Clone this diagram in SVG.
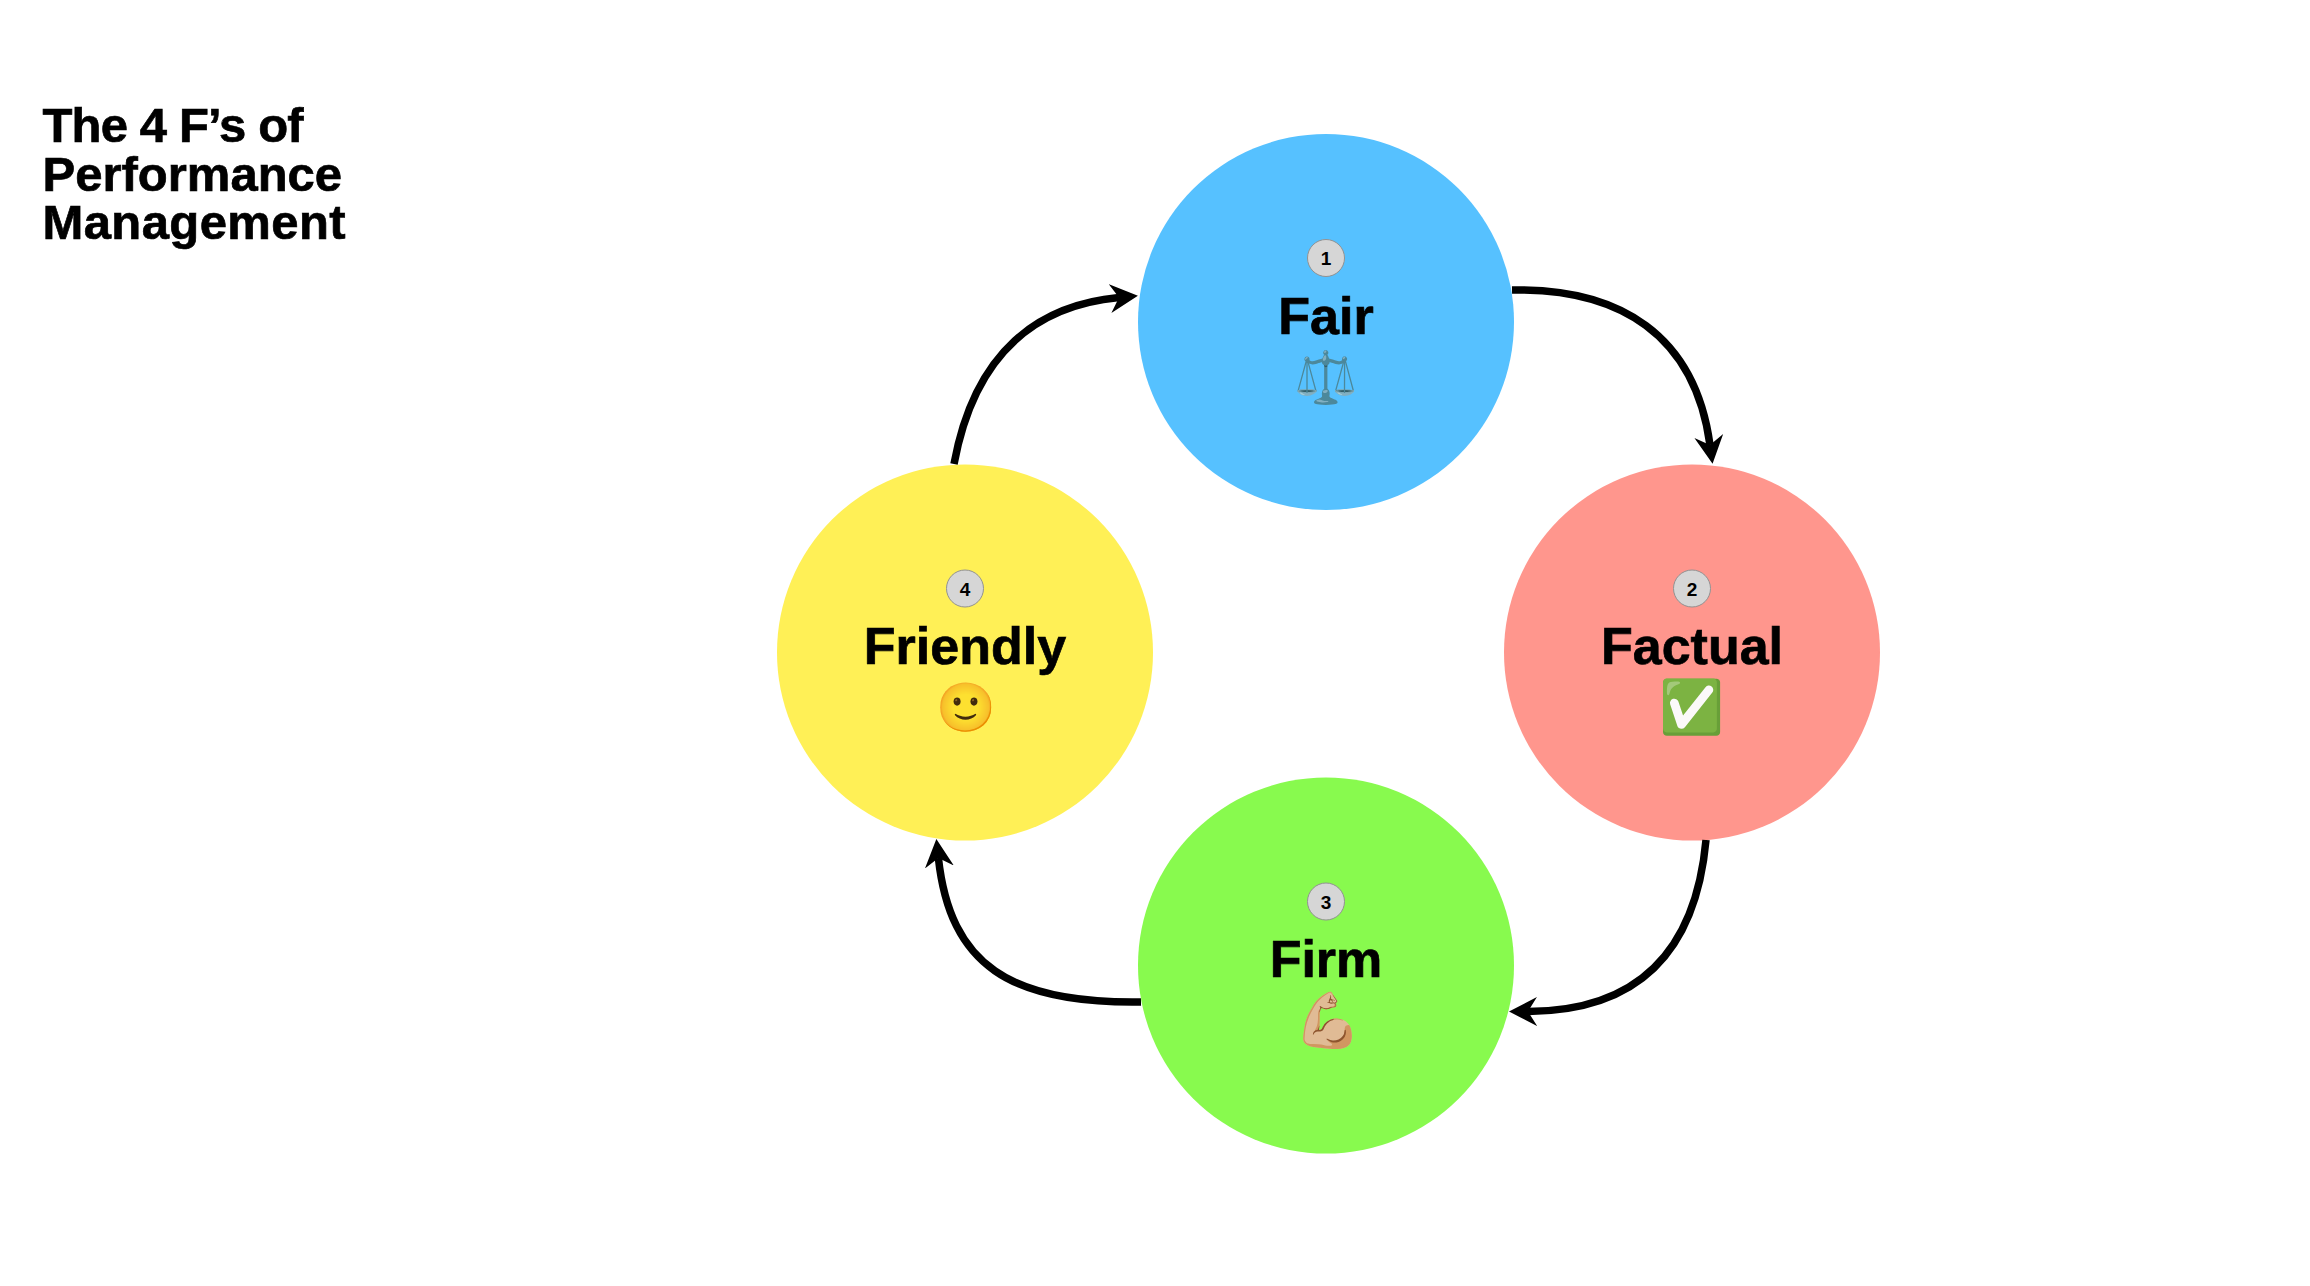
<svg xmlns="http://www.w3.org/2000/svg" width="2310" height="1286" viewBox="0 0 2310 1286">
<style>
text{font-family:"Liberation Sans",Arial,sans-serif;font-weight:700;fill:#000;text-anchor:middle}
.t{font-size:49px;text-anchor:start;stroke:#000;stroke-width:.7}
.l{font-size:52px;stroke:#000;stroke-width:.7}
.n{font-size:19px}
.b{fill:#d6d6d6;stroke:#929292;stroke-width:1}
.e{font-weight:400;font-family:"Noto Color Emoji","Apple Color Emoji","DejaVu Sans",sans-serif}
.c{fill:none;stroke:#000;stroke-width:7.5;marker-end:url(#a)}
</style>
<defs><marker id="a" markerUnits="userSpaceOnUse" markerWidth="30" markerHeight="30" refX="9" refY="15" orient="auto" viewBox="0 0 30 30"><path d="M0 .5L28 15L0 29.5L9 15z" fill="#000"/></marker></defs>
<rect width="2310" height="1286" fill="#fff"/>
<g id="title"><text class="t"><tspan x="42.5" y="142" letter-spacing="-.85">The 4 F’s of</tspan><tspan x="42.5" y="191">Performance</tspan><tspan x="42.5" y="239" letter-spacing=".4">Management</tspan></text></g>
<g id="node-fair"><circle cx="1326" cy="322" r="188" fill="#56c1ff"/><circle class="b" cx="1326" cy="258" r="18.5"/><text class="n" x="1326" y="265">1</text><text class="l" x="1326" y="334">Fair</text><text class="e" x="1326.5" y="395" font-size="51">⚖️</text></g>
<g id="node-factual"><circle cx="1692" cy="652.5" r="188" fill="#ff968d"/><circle class="b" cx="1692" cy="588.5" r="18.5"/><text class="n" x="1692" y="595.5">2</text><text class="l" x="1692" y="664">Factual</text><text class="e" x="1692" y="725" font-size="52">✅</text></g>
<g id="node-firm"><circle cx="1326" cy="965.5" r="188" fill="#88fa4e"/><circle class="b" cx="1326" cy="901.5" r="18.5"/><text class="n" x="1326" y="908.5">3</text><text class="l" x="1326" y="977">Firm</text><text class="e" x="1328" y="1039" font-size="54">💪🏼</text></g>
<g id="node-friendly"><circle cx="965" cy="652.5" r="188" fill="#fff056"/><circle class="b" cx="965" cy="588.5" r="18.5"/><text class="n" x="965" y="595.5">4</text><text class="l" x="965" y="664">Friendly</text><text class="e" x="966" y="724" font-size="48">🙂</text></g>
<g id="connectors">
<path class="c" d="M1512 290C1620 288 1695 335 1710 445"/>
<path class="c" d="M1706 840C1695 960 1630 1011 1528 1011.5"/>
<path class="c" d="M1141 1002C1010 1004 950 965 938.4 858"/>
<path class="c" d="M954 464C975 350 1040 305 1119 297.6"/>
</g>
</svg>
